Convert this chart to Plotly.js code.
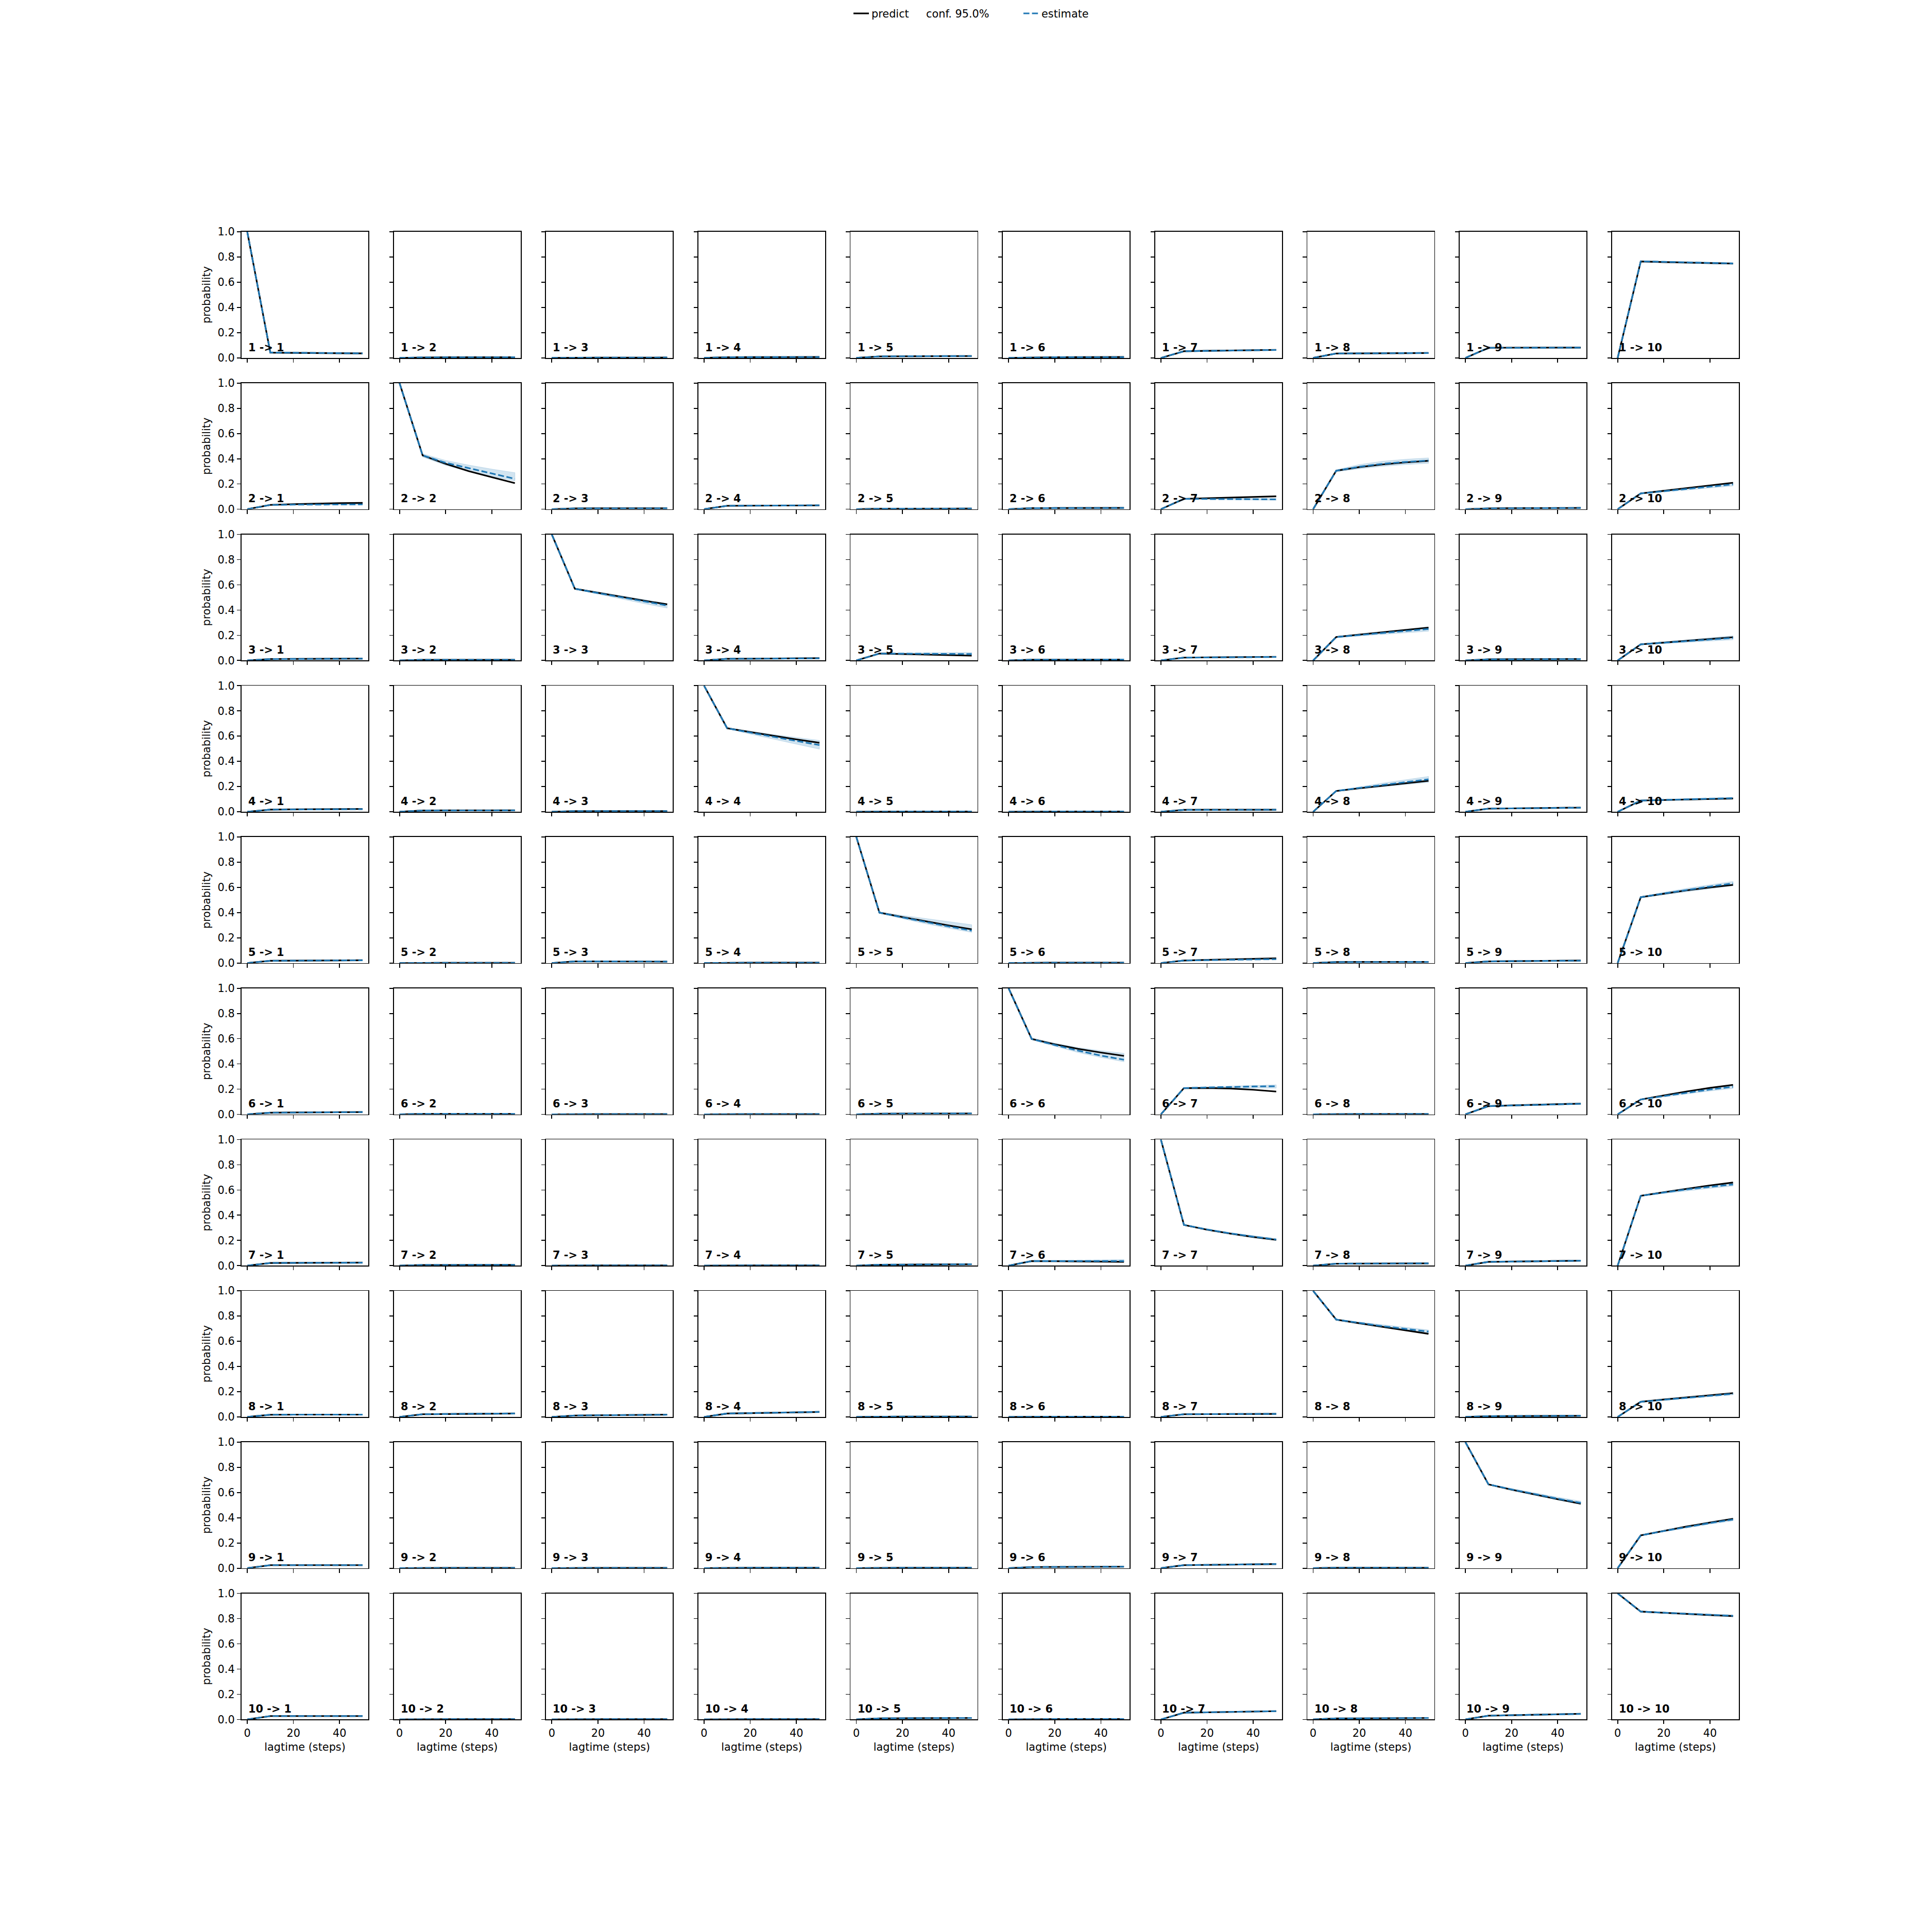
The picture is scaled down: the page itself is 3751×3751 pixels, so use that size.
<!DOCTYPE html>
<html>
<head>
<meta charset="utf-8">
<script src="https://cdn.plot.ly/plotly-3.0.1.min.js"></script>
<style>html,body{margin:0;padding:0;background:#fff;}#chart{width:3751px;height:3751px;}</style>
</head>
<body>
<div id="chart"></div>
<script>
// ---------------- DATA ----------------
const lagtimes = [0, 10, 20, 30, 40, 50];
const states = ['1', '2', '3', '4', '5', '6', '7', '8', '9', '10'];
const xTicks = [0, 20, 40];
const yTicks = [0, 0.2, 0.4, 0.6, 0.8, 1.0];
const legendLabels = ['predict', 'conf. 95.0%', 'estimate'];

// predict[i][j] : model prediction for transition i -> j
const predict1 = [
  [1, 0.042, 0.040, 0.038, 0.037, 0.036], [0, 0.004, 0.005, 0.005, 0.005, 0.005],
  [0, 0.002, 0.002, 0.002, 0.003, 0.003], [0, 0.005, 0.006, 0.006, 0.007, 0.007],
  [0, 0.012, 0.013, 0.014, 0.015, 0.015], [0, 0.004, 0.005, 0.006, 0.006, 0.007],
  [0, 0.053, 0.056, 0.059, 0.062, 0.064], [0, 0.035, 0.036, 0.037, 0.038, 0.039],
  [0, 0.080, 0.081, 0.081, 0.082, 0.082], [0, 0.765, 0.760, 0.756, 0.752, 0.748]];
const predict2 = [
  [0, 0.034, 0.040, 0.045, 0.048, 0.050], [1, 0.427, 0.360, 0.302, 0.254, 0.207],
  [0, 0.006, 0.007, 0.007, 0.007, 0.007], [0, 0.027, 0.028, 0.029, 0.030, 0.030],
  [0, 0.004, 0.004, 0.005, 0.005, 0.005], [0, 0.008, 0.009, 0.010, 0.010, 0.010],
  [0, 0.082, 0.087, 0.092, 0.097, 0.102], [0, 0.305, 0.334, 0.355, 0.371, 0.384],
  [0, 0.006, 0.008, 0.009, 0.010, 0.010], [0, 0.125, 0.146, 0.168, 0.189, 0.210]];
const predict3 = [
  [0, 0.011, 0.012, 0.013, 0.014, 0.015], [0, 0.005, 0.005, 0.005, 0.005, 0.005],
  [1, 0.569, 0.537, 0.505, 0.474, 0.445], [0, 0.013, 0.014, 0.015, 0.017, 0.018],
  [0, 0.055, 0.051, 0.046, 0.042, 0.038], [0, 0.006, 0.006, 0.007, 0.007, 0.007],
  [0, 0.023, 0.025, 0.026, 0.028, 0.029], [0, 0.186, 0.205, 0.224, 0.243, 0.261],
  [0, 0.009, 0.010, 0.010, 0.011, 0.011], [0, 0.128, 0.142, 0.156, 0.170, 0.184]];
const predict4 = [
  [0, 0.017, 0.019, 0.020, 0.021, 0.022], [0, 0.010, 0.011, 0.011, 0.011, 0.011],
  [0, 0.005, 0.005, 0.005, 0.005, 0.005], [1, 0.663, 0.632, 0.602, 0.574, 0.547],
  [0, 0.002, 0.002, 0.002, 0.002, 0.002], [0, 0.002, 0.002, 0.002, 0.002, 0.002],
  [0, 0.015, 0.016, 0.016, 0.016, 0.016], [0, 0.165, 0.186, 0.207, 0.227, 0.246],
  [0, 0.025, 0.027, 0.029, 0.031, 0.033], [0, 0.089, 0.093, 0.097, 0.101, 0.105]];
const predict5 = [
  [0, 0.018, 0.019, 0.020, 0.021, 0.022], [0, 0.002, 0.002, 0.002, 0.002, 0.002],
  [0, 0.013, 0.013, 0.012, 0.012, 0.011], [0, 0.003, 0.003, 0.003, 0.003, 0.003],
  [1, 0.400, 0.365, 0.330, 0.298, 0.268], [0, 0.003, 0.003, 0.003, 0.003, 0.003],
  [0, 0.020, 0.025, 0.029, 0.034, 0.038], [0, 0.008, 0.009, 0.009, 0.009, 0.009],
  [0, 0.013, 0.015, 0.016, 0.018, 0.020], [0, 0.522, 0.550, 0.577, 0.600, 0.620]];
const predict6 = [
  [0, 0.013, 0.015, 0.016, 0.017, 0.018], [0, 0.004, 0.004, 0.004, 0.004, 0.004],
  [0, 0.002, 0.002, 0.002, 0.002, 0.002], [0, 0.002, 0.002, 0.002, 0.002, 0.002],
  [0, 0.005, 0.006, 0.006, 0.007, 0.007], [1, 0.598, 0.556, 0.520, 0.490, 0.464],
  [0, 0.208, 0.209, 0.205, 0.195, 0.181], [0, 0.003, 0.003, 0.003, 0.003, 0.003],
  [0, 0.065, 0.071, 0.076, 0.081, 0.085], [0, 0.118, 0.150, 0.182, 0.210, 0.234]];
const predict7 = [
  [0, 0.021, 0.022, 0.023, 0.023, 0.024], [0, 0.005, 0.005, 0.006, 0.006, 0.006],
  [0, 0.002, 0.002, 0.002, 0.002, 0.002], [0, 0.002, 0.002, 0.002, 0.002, 0.002],
  [0, 0.007, 0.008, 0.009, 0.010, 0.011], [0, 0.036, 0.035, 0.033, 0.032, 0.030],
  [1, 0.323, 0.285, 0.254, 0.227, 0.204], [0, 0.015, 0.016, 0.017, 0.017, 0.018],
  [0, 0.030, 0.032, 0.034, 0.037, 0.039], [0, 0.554, 0.582, 0.610, 0.636, 0.659]];
const predict8 = [
  [0, 0.017, 0.018, 0.018, 0.018, 0.018], [0, 0.021, 0.023, 0.024, 0.026, 0.027],
  [0, 0.011, 0.013, 0.015, 0.016, 0.018], [0, 0.027, 0.030, 0.033, 0.036, 0.039],
  [0, 0.003, 0.003, 0.003, 0.003, 0.003], [0, 0.002, 0.002, 0.002, 0.002, 0.002],
  [0, 0.021, 0.022, 0.023, 0.023, 0.024], [1, 0.772, 0.743, 0.714, 0.686, 0.659],
  [0, 0.006, 0.007, 0.008, 0.008, 0.009], [0, 0.120, 0.138, 0.155, 0.172, 0.189]];
const predict9 = [
  [0, 0.024, 0.024, 0.024, 0.024, 0.024], [0, 0.002, 0.002, 0.002, 0.002, 0.002],
  [0, 0.002, 0.002, 0.002, 0.002, 0.002], [0, 0.003, 0.003, 0.003, 0.003, 0.003],
  [0, 0.003, 0.003, 0.003, 0.003, 0.003], [0, 0.009, 0.010, 0.011, 0.011, 0.012],
  [0, 0.024, 0.026, 0.028, 0.031, 0.033], [0, 0.004, 0.004, 0.004, 0.004, 0.004],
  [1, 0.665, 0.623, 0.584, 0.547, 0.512], [0, 0.260, 0.296, 0.331, 0.362, 0.392]];
const predict10 = [
  [0, 0.027, 0.027, 0.027, 0.027, 0.027], [0, 0.002, 0.002, 0.002, 0.002, 0.002],
  [0, 0.002, 0.002, 0.002, 0.002, 0.002], [0, 0.002, 0.002, 0.002, 0.002, 0.002],
  [0, 0.009, 0.010, 0.011, 0.011, 0.012], [0, 0.003, 0.003, 0.003, 0.003, 0.003],
  [0, 0.054, 0.057, 0.060, 0.063, 0.066], [0, 0.008, 0.009, 0.010, 0.011, 0.012],
  [0, 0.030, 0.034, 0.038, 0.042, 0.045], [1, 0.856, 0.846, 0.836, 0.828, 0.820]];

// estimate[i][j] : direct estimate for transition i -> j
const estimate1 = [
  [1, 0.043, 0.041, 0.039, 0.037, 0.036], [0, 0.004, 0.004, 0.005, 0.005, 0.005],
  [0, 0.002, 0.002, 0.002, 0.002, 0.003], [0, 0.005, 0.006, 0.006, 0.006, 0.007],
  [0, 0.012, 0.013, 0.013, 0.014, 0.015], [0, 0.004, 0.005, 0.005, 0.006, 0.006],
  [0, 0.053, 0.056, 0.058, 0.061, 0.063], [0, 0.035, 0.036, 0.037, 0.038, 0.039],
  [0, 0.080, 0.080, 0.081, 0.081, 0.082], [0, 0.766, 0.762, 0.757, 0.753, 0.749]];
const estimate2 = [
  [0, 0.034, 0.036, 0.037, 0.038, 0.038], [1, 0.427, 0.368, 0.325, 0.283, 0.241],
  [0, 0.006, 0.006, 0.007, 0.007, 0.007], [0, 0.027, 0.028, 0.029, 0.030, 0.031],
  [0, 0.004, 0.004, 0.004, 0.005, 0.005], [0, 0.008, 0.009, 0.009, 0.010, 0.010],
  [0, 0.082, 0.081, 0.080, 0.079, 0.078], [0, 0.305, 0.337, 0.360, 0.375, 0.386],
  [0, 0.006, 0.007, 0.008, 0.009, 0.010], [0, 0.125, 0.143, 0.161, 0.179, 0.197]];
const estimate3 = [
  [0, 0.011, 0.012, 0.013, 0.013, 0.014], [0, 0.005, 0.005, 0.005, 0.005, 0.005],
  [1, 0.569, 0.535, 0.502, 0.468, 0.436], [0, 0.013, 0.014, 0.015, 0.016, 0.017],
  [0, 0.055, 0.054, 0.053, 0.052, 0.051], [0, 0.006, 0.006, 0.006, 0.007, 0.007],
  [0, 0.023, 0.024, 0.025, 0.027, 0.028], [0, 0.186, 0.202, 0.218, 0.234, 0.250],
  [0, 0.009, 0.009, 0.010, 0.010, 0.011], [0, 0.128, 0.141, 0.154, 0.166, 0.179]];
const estimate4 = [
  [0, 0.017, 0.018, 0.019, 0.020, 0.021], [0, 0.010, 0.010, 0.011, 0.011, 0.011],
  [0, 0.005, 0.005, 0.005, 0.005, 0.005], [1, 0.663, 0.628, 0.594, 0.561, 0.529],
  [0, 0.002, 0.002, 0.002, 0.002, 0.002], [0, 0.002, 0.002, 0.002, 0.002, 0.002],
  [0, 0.015, 0.015, 0.016, 0.016, 0.016], [0, 0.165, 0.189, 0.213, 0.235, 0.257],
  [0, 0.025, 0.027, 0.029, 0.031, 0.032], [0, 0.089, 0.094, 0.099, 0.104, 0.108]];
const estimate5 = [
  [0, 0.018, 0.019, 0.020, 0.021, 0.022], [0, 0.002, 0.002, 0.002, 0.002, 0.002],
  [0, 0.013, 0.013, 0.012, 0.012, 0.012], [0, 0.003, 0.003, 0.003, 0.003, 0.003],
  [1, 0.400, 0.362, 0.325, 0.290, 0.257], [0, 0.003, 0.003, 0.003, 0.003, 0.003],
  [0, 0.020, 0.023, 0.026, 0.028, 0.031], [0, 0.008, 0.008, 0.009, 0.009, 0.009],
  [0, 0.013, 0.015, 0.016, 0.017, 0.019], [0, 0.522, 0.552, 0.580, 0.607, 0.632]];
const estimate6 = [
  [0, 0.013, 0.014, 0.016, 0.017, 0.018], [0, 0.004, 0.004, 0.004, 0.004, 0.004],
  [0, 0.002, 0.002, 0.002, 0.002, 0.002], [0, 0.002, 0.002, 0.002, 0.002, 0.002],
  [0, 0.005, 0.006, 0.006, 0.006, 0.007], [1, 0.598, 0.550, 0.506, 0.466, 0.433],
  [0, 0.208, 0.213, 0.218, 0.221, 0.223], [0, 0.003, 0.003, 0.003, 0.003, 0.003],
  [0, 0.065, 0.070, 0.075, 0.080, 0.084], [0, 0.118, 0.145, 0.172, 0.197, 0.219]];
const estimate7 = [
  [0, 0.021, 0.022, 0.022, 0.023, 0.023], [0, 0.005, 0.005, 0.005, 0.006, 0.006],
  [0, 0.002, 0.002, 0.002, 0.002, 0.002], [0, 0.002, 0.002, 0.002, 0.002, 0.002],
  [0, 0.007, 0.008, 0.009, 0.010, 0.011], [0, 0.036, 0.036, 0.036, 0.036, 0.036],
  [1, 0.323, 0.287, 0.256, 0.230, 0.207], [0, 0.015, 0.016, 0.016, 0.017, 0.018],
  [0, 0.030, 0.032, 0.034, 0.036, 0.039], [0, 0.554, 0.580, 0.605, 0.625, 0.644]];
const estimate8 = [
  [0, 0.017, 0.018, 0.018, 0.018, 0.018], [0, 0.021, 0.023, 0.024, 0.025, 0.027],
  [0, 0.011, 0.013, 0.015, 0.016, 0.017], [0, 0.027, 0.030, 0.033, 0.036, 0.040],
  [0, 0.003, 0.003, 0.003, 0.003, 0.003], [0, 0.002, 0.002, 0.002, 0.002, 0.002],
  [0, 0.021, 0.022, 0.022, 0.023, 0.024], [1, 0.772, 0.746, 0.720, 0.698, 0.677],
  [0, 0.006, 0.007, 0.008, 0.008, 0.009], [0, 0.120, 0.136, 0.152, 0.168, 0.183]];
const estimate9 = [
  [0, 0.024, 0.024, 0.024, 0.024, 0.024], [0, 0.002, 0.002, 0.002, 0.002, 0.002],
  [0, 0.002, 0.002, 0.002, 0.002, 0.002], [0, 0.003, 0.003, 0.003, 0.003, 0.003],
  [0, 0.003, 0.003, 0.003, 0.003, 0.003], [0, 0.009, 0.010, 0.011, 0.011, 0.012],
  [0, 0.024, 0.026, 0.028, 0.030, 0.033], [0, 0.004, 0.004, 0.004, 0.004, 0.004],
  [1, 0.665, 0.625, 0.587, 0.551, 0.518], [0, 0.260, 0.295, 0.328, 0.358, 0.386]];
const estimate10 = [
  [0, 0.027, 0.027, 0.027, 0.027, 0.027], [0, 0.002, 0.002, 0.002, 0.002, 0.002],
  [0, 0.002, 0.002, 0.002, 0.002, 0.002], [0, 0.002, 0.002, 0.002, 0.002, 0.002],
  [0, 0.009, 0.010, 0.011, 0.011, 0.012], [0, 0.003, 0.003, 0.003, 0.003, 0.003],
  [0, 0.054, 0.057, 0.060, 0.063, 0.066], [0, 0.008, 0.009, 0.010, 0.011, 0.012],
  [0, 0.030, 0.034, 0.038, 0.041, 0.044], [1, 0.856, 0.847, 0.838, 0.830, 0.822]];

// 95% confidence band (lower / upper) where visible; null = too thin to see
const confLow1  = [[1,0.040,0.038,0.036,0.035,0.034], null, null, null, null, null,
  [0,0.050,0.053,0.055,0.058,0.060], null, null, [0,0.761,0.756,0.751,0.746,0.742]];
const confHigh1 = [[1,0.046,0.044,0.042,0.040,0.039], null, null, null, null, null,
  [0,0.056,0.059,0.061,0.064,0.066], null, null, [0,0.771,0.767,0.763,0.759,0.756]];
const confLow2  = [[0,0.032,0.033,0.033,0.034,0.034], [1,0.414,0.348,0.300,0.260,0.224], null,
  [0,0.025,0.026,0.027,0.027,0.028], null, null, [0,0.079,0.077,0.075,0.073,0.071],
  [0,0.297,0.320,0.340,0.354,0.364], null, [0,0.120,0.136,0.152,0.168,0.184]];
const confHigh2 = [[0,0.036,0.039,0.041,0.042,0.043], [1,0.440,0.387,0.350,0.318,0.290], null,
  [0,0.029,0.030,0.031,0.033,0.034], null, null, [0,0.085,0.085,0.085,0.085,0.085],
  [0,0.313,0.354,0.380,0.396,0.407], null, [0,0.130,0.150,0.170,0.190,0.210]];
const confLow3  = [null, null, [1,0.564,0.526,0.487,0.451,0.416], null,
  [0,0.052,0.050,0.048,0.046,0.044], null, null, [0,0.182,0.194,0.207,0.220,0.232], null,
  [0,0.124,0.134,0.144,0.154,0.164]];
const confHigh3 = [null, null, [1,0.574,0.544,0.514,0.483,0.452], null,
  [0,0.058,0.059,0.060,0.062,0.064], null, null, [0,0.190,0.210,0.229,0.248,0.267], null,
  [0,0.132,0.148,0.164,0.180,0.196]];
const confLow4  = [[0,0.015,0.016,0.017,0.017,0.018], null, null, [1,0.659,0.616,0.576,0.536,0.497],
  null, null, null, [0,0.162,0.181,0.199,0.216,0.233], [0,0.023,0.025,0.026,0.028,0.029],
  [0,0.086,0.090,0.094,0.098,0.101]];
const confHigh4 = [[0,0.019,0.021,0.022,0.023,0.024], null, null, [1,0.667,0.640,0.613,0.589,0.566],
  null, null, null, [0,0.168,0.197,0.227,0.254,0.280], [0,0.027,0.029,0.032,0.034,0.036],
  [0,0.092,0.098,0.104,0.110,0.115]];
const confLow5  = [null, null, null, null, [1,0.395,0.352,0.312,0.276,0.243], null,
  [0,0.018,0.021,0.023,0.025,0.027], null, null, [0,0.517,0.542,0.566,0.590,0.613]];
const confHigh5 = [null, null, null, null, [1,0.405,0.378,0.352,0.328,0.304], null,
  [0,0.022,0.025,0.029,0.032,0.035], null, null, [0,0.527,0.561,0.593,0.621,0.648]];
const confLow6  = [null, null, null, null, null, [1,0.592,0.540,0.491,0.451,0.417],
  [0,0.205,0.207,0.208,0.208,0.208], null, [0,0.062,0.066,0.071,0.075,0.078],
  [0,0.114,0.138,0.162,0.185,0.205]];
const confHigh6 = [null, null, null, null, null, [1,0.604,0.564,0.530,0.505,0.484],
  [0,0.211,0.219,0.226,0.230,0.234], null, [0,0.068,0.074,0.079,0.085,0.090],
  [0,0.122,0.152,0.182,0.209,0.233]];
const confLow7  = [null, null, null, null, null, [0,0.034,0.033,0.032,0.031,0.030],
  [1,0.320,0.282,0.250,0.223,0.200], null, [0,0.028,0.030,0.032,0.034,0.036],
  [0,0.550,0.572,0.594,0.613,0.631]];
const confHigh7 = [null, null, null, null, null, [0,0.038,0.041,0.044,0.046,0.048],
  [1,0.326,0.292,0.262,0.237,0.214], null, [0,0.032,0.035,0.037,0.040,0.043],
  [0,0.558,0.588,0.616,0.638,0.657]];
const confLow8  = [null, null, null, null, null, null, null,
  [1,0.768,0.738,0.710,0.686,0.664], null, [0,0.117,0.131,0.146,0.161,0.175]];
const confHigh8 = [null, null, null, null, null, null, null,
  [1,0.776,0.753,0.730,0.710,0.690], null, [0,0.123,0.141,0.158,0.175,0.191]];
const confLow9  = [null, null, null, null, null, null, null, null,
  [1,0.661,0.618,0.578,0.541,0.506], [0,0.256,0.289,0.320,0.349,0.376]];
const confHigh9 = [null, null, null, null, null, null, null, null,
  [1,0.669,0.632,0.596,0.563,0.532], [0,0.264,0.301,0.336,0.368,0.398]];
const confLow10 = [null, null, null, null, null, null, [0,0.052,0.055,0.058,0.060,0.063], null,
  [0,0.028,0.031,0.035,0.038,0.041], [1,0.853,0.842,0.832,0.823,0.814]];
const confHigh10 = [null, null, null, null, null, null, [0,0.056,0.059,0.062,0.066,0.069], null,
  [0,0.032,0.037,0.041,0.045,0.049], [1,0.859,0.852,0.844,0.837,0.830]];

const predictRows = [predict1, predict2, predict3, predict4, predict5, predict6, predict7, predict8, predict9, predict10];
const estimateRows = [estimate1, estimate2, estimate3, estimate4, estimate5, estimate6, estimate7, estimate8, estimate9, estimate10];
const confLowRows = [confLow1, confLow2, confLow3, confLow4, confLow5, confLow6, confLow7, confLow8, confLow9, confLow10];
const confHighRows = [confHigh1, confHigh2, confHigh3, confHigh4, confHigh5, confHigh6, confHigh7, confHigh8, confHigh9, confHigh10];

// ---------------- STYLE / LAYOUT ----------------
(function () {
const W = 3751, H = 3751;
const FONT = 'DejaVu Sans, Liberation Sans, sans-serif';
const FS = 20.83;
const C0 = '#1f77b4';
const n = states.length;
const gLeft = 0.125, gRight = 0.9, gBottom = 0.11, gTop = 0.88, wspace = 0.2, hspace = 0.2;
const pw = (gRight - gLeft) / (n + (n - 1) * wspace);
const ph = (gTop - gBottom) / (n + (n - 1) * hspace);

const data = [];
const legFont = {family: FONT, size: FS, color: '#000'};
const legY = 1 - 6 / H;
const layout = {
  width: W, height: H,
  margin: {l: 0, r: 0, t: 0, b: 0, pad: 0},
  paper_bgcolor: '#ffffff', plot_bgcolor: '#ffffff',
  font: {family: FONT, size: FS, color: '#000000'},
  showlegend: true,
  annotations: [],
  legend: {x: 1652 / W, y: legY, xanchor: 'left', yanchor: 'top', orientation: 'h',
           bgcolor: 'rgba(0,0,0,0)', font: legFont},
  legend2: {x: 1758 / W, y: legY, xanchor: 'left', yanchor: 'top', orientation: 'h',
           bgcolor: 'rgba(0,0,0,0)', font: legFont},
  legend3: {x: 1982 / W, y: legY, xanchor: 'left', yanchor: 'top', orientation: 'h',
           bgcolor: 'rgba(0,0,0,0)', font: legFont}
};

for (let i = 0; i < n; i++) {
  for (let j = 0; j < n; j++) {
    const k = i * n + j + 1;
    const xa = k === 1 ? 'x' : 'x' + k;
    const ya = k === 1 ? 'y' : 'y' + k;
    const x0 = gLeft + j * pw * (1 + wspace);
    const y1 = gTop - i * ph * (1 + hspace);
    const axCommon = {
      showgrid: false, zeroline: false, showline: true, mirror: true,
      linecolor: '#000', linewidth: 1.67, ticks: 'outside', ticklen: 7.3, tickwidth: 1.67,
      tickcolor: '#000', tickfont: {family: FONT, size: FS, color: '#000'}, fixedrange: true
    };
    layout['xaxis' + (k === 1 ? '' : k)] = Object.assign({}, axCommon, {
      domain: [x0, x0 + pw], anchor: ya, range: [-2.5, 52.5],
      tickmode: 'array', tickvals: xTicks, ticktext: xTicks.map(String),
      showticklabels: i === n - 1,
      title: i === n - 1 ? {text: 'lagtime (steps)', font: {family: FONT, size: FS, color: '#000'}, standoff: 8} : {text: ''}
    });
    layout['yaxis' + (k === 1 ? '' : k)] = Object.assign({}, axCommon, {
      domain: [y1 - ph, y1], anchor: xa, range: [0, 1],
      tickmode: 'array', tickvals: yTicks, ticktext: yTicks.map(v => v.toFixed(1)),
      showticklabels: j === 0,
      title: j === 0 ? {text: 'probability', font: {family: FONT, size: FS, color: '#000'}, standoff: 8} : {text: ''}
    });

    const lo = confLowRows[i][j], hi = confHighRows[i][j];
    if (lo && hi) {
      data.push({
        type: 'scatter', mode: 'lines', xaxis: xa, yaxis: ya,
        x: lagtimes.concat(lagtimes.slice().reverse()),
        y: lo.concat(hi.slice().reverse()),
        fill: 'toself', fillcolor: 'rgba(31,119,180,0.2)',
        line: {color: 'rgba(31,119,180,0.2)', width: 1}, showlegend: false, hoverinfo: 'skip'
      });
    }
    data.push({
      type: 'scatter', mode: 'lines', xaxis: xa, yaxis: ya, x: lagtimes, y: predictRows[i][j],
      line: {color: '#000000', width: 3.125}, name: legendLabels[0],
      legend: 'legend', showlegend: k === 1, hoverinfo: 'skip'
    });
    data.push({
      type: 'scatter', mode: 'lines', xaxis: xa, yaxis: ya, x: lagtimes, y: estimateRows[i][j],
      line: {color: C0, width: 3.125, dash: '11.6px,5px'}, name: legendLabels[2],
      legend: 'legend3', showlegend: k === 1, hoverinfo: 'skip'
    });
    layout.annotations.push({
      xref: xa + ' domain', yref: ya + ' domain', x: 0.05, y: 0.03,
      xanchor: 'left', yanchor: 'bottom', showarrow: false, borderpad: 0,
      text: states[i] + ' -> ' + states[j],
      font: {family: FONT, size: FS, color: '#000', weight: 'bold'}
    });
  }
}
// legend entry for the confidence band label (no visible handle, as in the reference)
data.push({
  type: 'scatter', mode: 'lines', xaxis: 'x', yaxis: 'y', x: [null], y: [null],
  line: {color: 'rgba(0,0,0,0)', width: 0}, name: legendLabels[1],
  legend: 'legend2', showlegend: true, hoverinfo: 'skip'
});

Plotly.newPlot('chart', data, layout, {staticPlot: true, displayModeBar: false});
})();
</script>
</body>
</html>
